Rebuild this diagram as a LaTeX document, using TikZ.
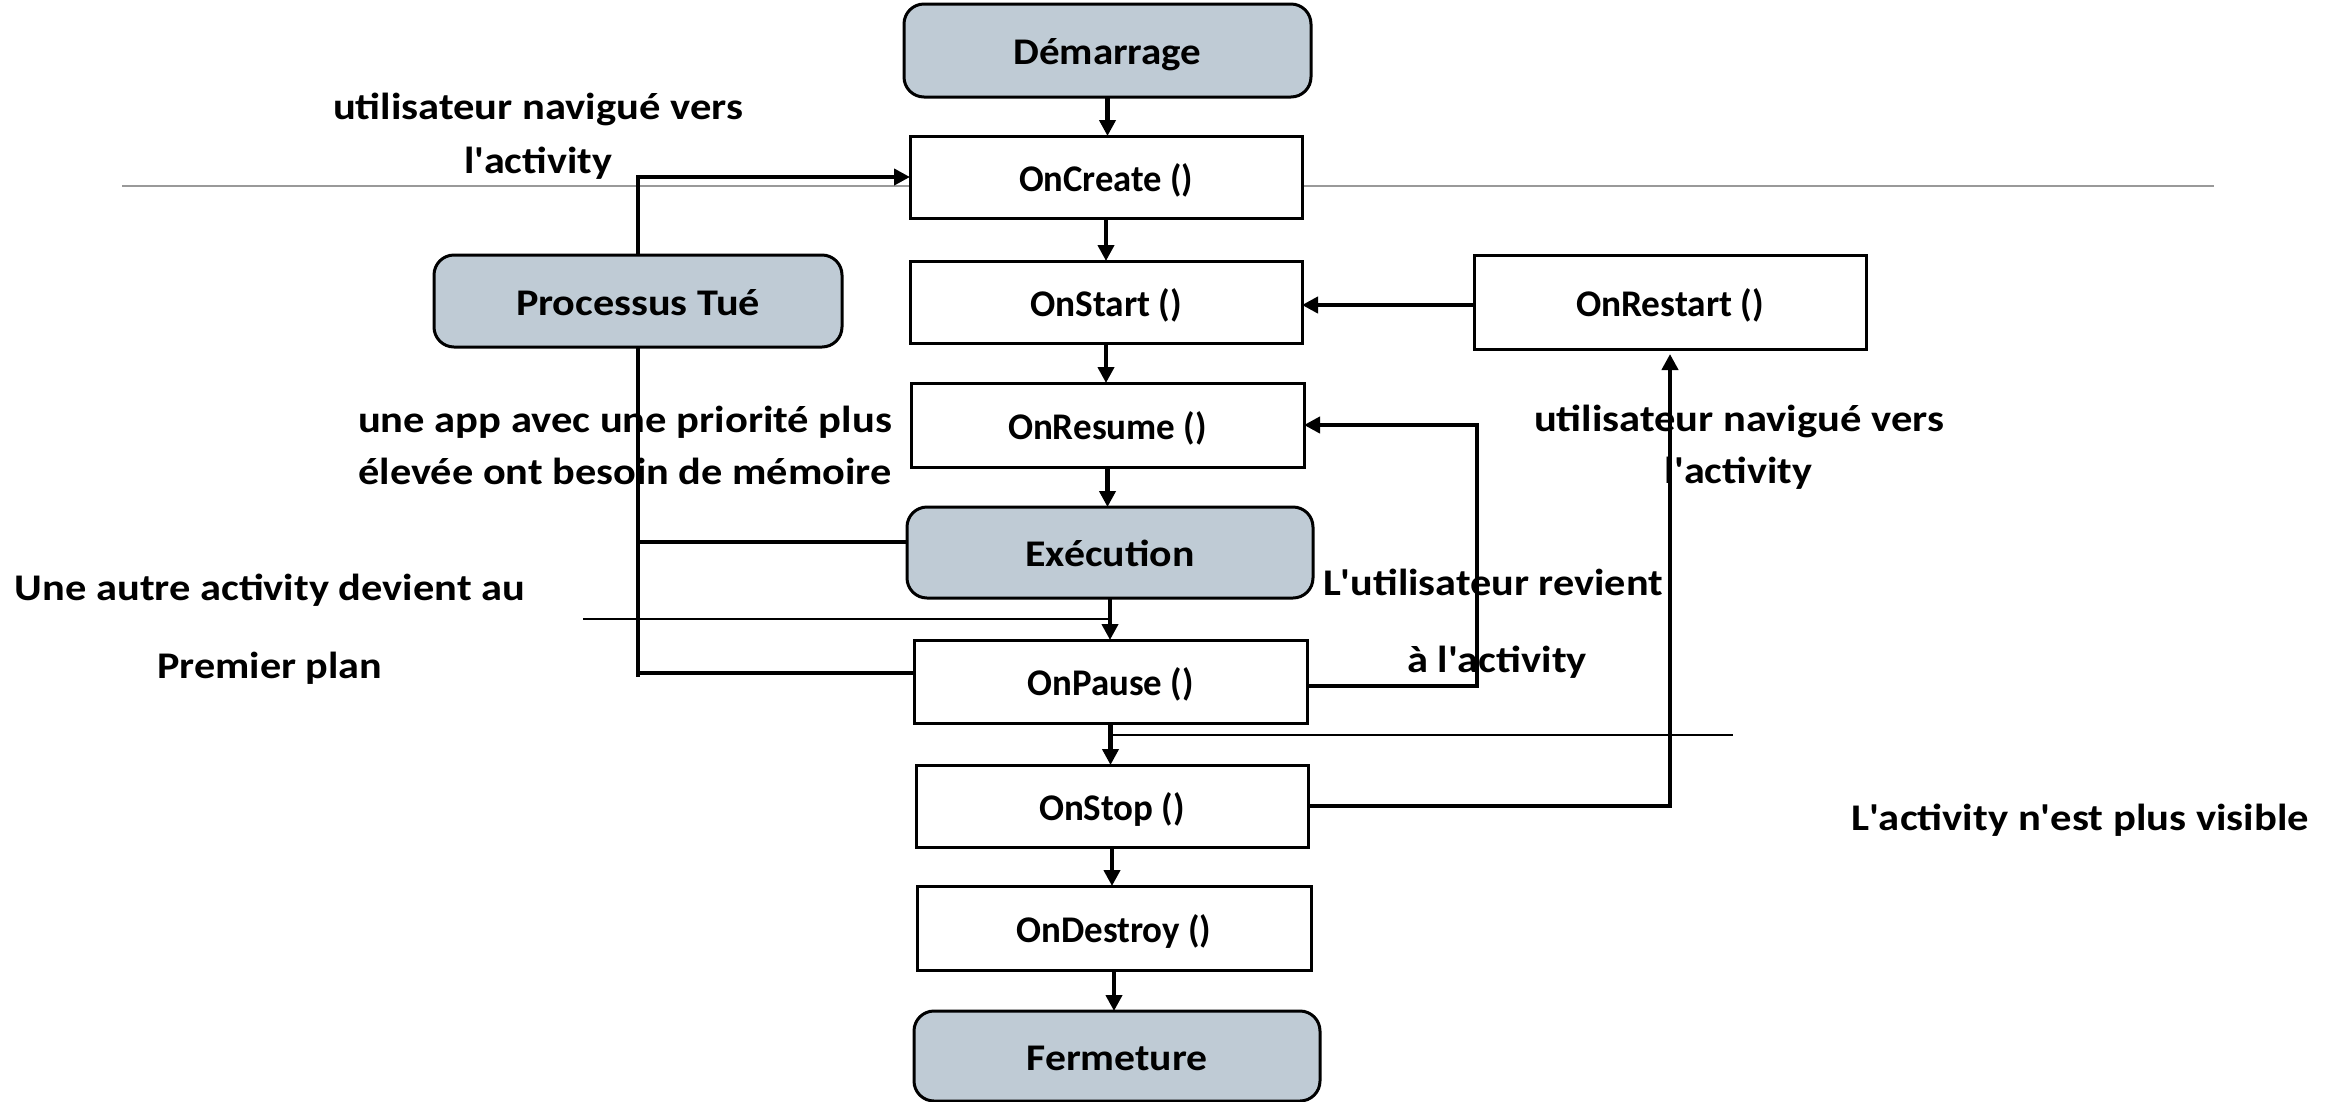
\documentclass[tikz,border=0pt]{standalone}
\usepackage{fontspec}
\setmainfont{Carlito}
\usepackage{graphicx}
\usetikzlibrary{arrows.meta}
\definecolor{boxfill}{RGB}{191,203,213}
\newsavebox\tbox
\newlength\tlen
\newcommand\fw[2]{\sbox\tbox{#2}\setlength\tlen{\wd\tbox}\pgfmathsetmacro\tsc{#1*0.3/\tlen}\scalebox{\tsc}[1]{\usebox\tbox}}
\newcommand\q{\textquotesingle}
\begin{document}
\begin{tikzpicture}[x=0.3pt,y=-0.3pt,
  every node/.style={font=\fontsize{11.3pt}{13pt}\selectfont\bfseries, inner sep=0pt, outer sep=0pt, text height=9.5pt, text depth=2pt},
  proc/.style={draw, line width=0.9pt, fill=white, text height=10.3pt, text depth=1.8pt},
  state/.style={draw, line width=0.9pt, fill=boxfill, rounded corners=6pt, text height=10.3pt, text depth=1.8pt},
  flow/.style={line width=1.45pt, -{Triangle[length=4.8pt,width=4.8pt]}},
  link/.style={line width=1.45pt},
  thinline/.style={line width=0.7pt},
]
\useasboundingbox (0,0) rectangle (2339,1102);
\draw[line width=0.6pt, black!40] (122,186) -- (2214,186);

\node[state, minimum width=122.1pt, minimum height=27.9pt] (dem) at (1107.5,50.5) {\fw{188}{Démarrage}};
\node[proc, minimum width=117.6pt, minimum height=24.6pt] (oncreate) at (1106,177) {\fw{174}{OnCreate ()}};
\node[proc, minimum width=117.6pt, minimum height=24.6pt] (onstart) at (1106,302) {\fw{152}{OnStart ()}};
\node[proc, minimum width=117.6pt, minimum height=28.2pt] (onrestart) at (1670,302) {\fw{188}{OnRestart ()}};
\node[proc, minimum width=117.9pt, minimum height=25.2pt] (onresume) at (1107.5,425) {\fw{199}{OnResume ()}};
\node[state, minimum width=121.8pt, minimum height=27.3pt] (exec) at (1110,552.5) {\fw{169}{Exécution}};
\node[proc, minimum width=117.9pt, minimum height=24.9pt] (onpause) at (1110.5,681.5) {\fw{166}{OnPause ()}};
\node[proc, minimum width=117.6pt, minimum height=24.6pt] (onstop) at (1112,806) {\fw{146}{OnStop ()}};
\node[proc, minimum width=118.2pt, minimum height=25.2pt] (ondestroy) at (1114,928) {\fw{195}{OnDestroy ()}};
\node[state, minimum width=121.8pt, minimum height=27pt] (ferm) at (1117,1056) {\fw{181}{Fermeture}};
\node[state, minimum width=122.4pt, minimum height=27.6pt] (proc) at (638,301) {\fw{244}{Processus Tué}};

\draw[flow] (dem.south) -- (dem.south |- oncreate.north);
\draw[flow] (oncreate.south) -- (oncreate.south |- onstart.north);
\draw[flow] (onstart.south) -- (onstart.south |- onresume.north);
\draw[flow] (onresume.south) -- (onresume.south |- exec.north);
\draw[flow] (exec.south) -- (exec.south |- onpause.north);
\draw[flow] (onpause.south) -- (onpause.south |- onstop.north);
\draw[flow] (onstop.south) -- (onstop.south |- ondestroy.north);
\draw[flow] (ondestroy.south) -- (ondestroy.south |- ferm.north);

\draw[flow] (onrestart.west |- 0,305) -- (onstart.east |- 0,305);
\coordinate (cr1) at (1477,0);
\draw[flow] (onpause.east |- 0,686) -- (cr1 |- 0,686) -- (cr1 |- onresume.east) -- (onresume.east);
\draw[flow, shorten >=1.5pt] (onstop.east) -| (onrestart.south);
\draw[flow] (proc.north) |- (oncreate.west);

\coordinate (pk) at (638,677);
\draw[link] (proc.south) -- (proc.south |- pk);
\draw[link] (proc.south |- 0,542) -- (exec.west |- 0,542);
\draw[link] (proc.south |- 0,673) -- (onpause.west |- 0,673);

\draw[thinline] (583,619) -- (exec.south |- 0,619);
\draw[thinline] (onpause.south |- 0,735) -- (1733,735);

\node (l1a) at (538,107) {\fw{410}{utilisateur navigué vers}};
\node (l1b) at (538,161) {\fw{148}{l\q activity}};
\node (l2a) at (625,420) {\fw{534}{une app avec une priorité plus}};
\node (l2b) at (625,472) {\fw{533}{élevée ont besoin de mémoire}};
\node (l3a) at (270,588) {\fw{510}{Une autre activity devient au}};
\node (l3b) at (270,666) {\fw{225}{Premier plan}};
\node (l4a) at (1493,583) {\fw{340}{L\q utilisateur revient}};
\node (l4b) at (1497,660) {\fw{180}{à l\q activity}};
\node (l5a) at (1739,419) {\fw{410}{utilisateur navigué vers}};
\node (l5b) at (1738,471) {\fw{148}{l\q activity}};
\node (l6) at (2080,818) {\fw{458}{L\q activity n\q est plus visible}};
\end{tikzpicture}
\end{document}
